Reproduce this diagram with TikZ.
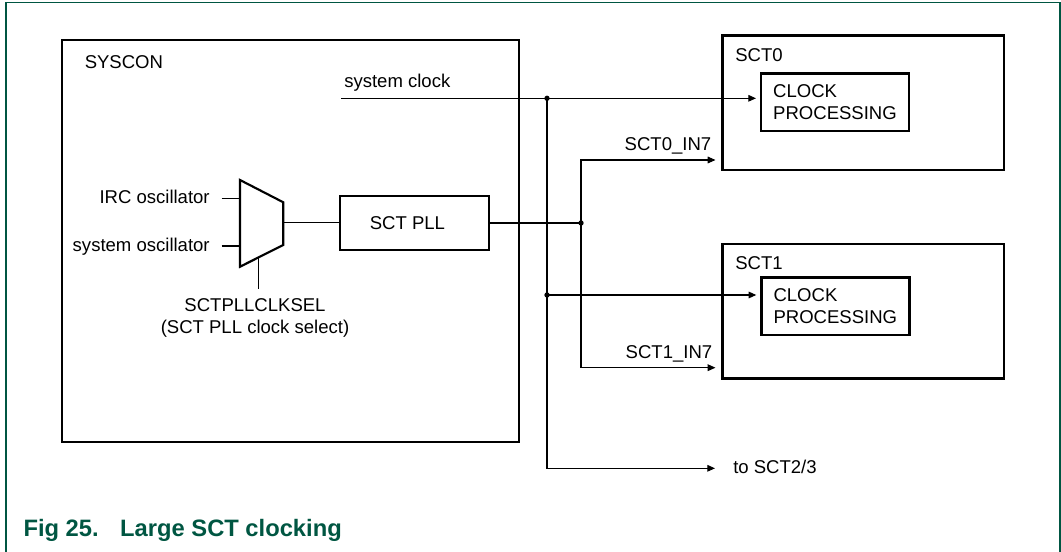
\documentclass[tikz,border=0pt]{standalone}
\usepackage{fontspec}
\setmainfont{Liberation Sans}
\usepackage{tikz}
\usetikzlibrary{arrows.meta}
\definecolor{nxpgreen}{RGB}{0,86,66}

\begin{document}
\begin{tikzpicture}[x=0.75pt, y=-0.75pt,
	every node/.style={font=\fontsize{13.9}{16.5}\selectfont, inner sep=0pt},
	blk/.style={draw, line width=1.9pt, rectangle},
	wire/.style={line width=0.8pt},
	arr/.style={wire, -{Triangle[length=5.8pt, width=5pt]}, shorten >=#1},
	arr/.default=0pt,
	txt/.style={anchor=base west}]
	\useasboundingbox (0,0) rectangle (1061,552);
	\draw[nxpgreen, line width=0.8pt] (6,552) -- (6,2.5) -- (1060,2.5) -- (1060,552);
	%%
	\node[blk, minimum width=342.75pt, minimum height=301.3pt] (syscon) at (290.5,240.9) {};
	\node[txt] (sysconlbl) at (84.5,69) {SYSCON};
	\node[txt] (sysclklbl) at (344,88) {system clock};
	\coordinate (sysclk) at (341,98.3);
	%%
	\coordinate (muxa) at (240,198.3);
	\coordinate (muxb) at (240,246);
	\coordinate (muxout) at (283.3,222.7);
	\coordinate (muxsel) at (258.3,257.5);
	\draw[line width=1.6pt] (240,180) -- (283.3,202.3) -- (283.3,245) -- (240,266.7) -- cycle;
	\node[anchor=base east, inner xsep=8.8pt] (irc) at (221.7,204) {IRC oscillator};
	\node[anchor=base east, inner xsep=8.8pt] (sysosc) at (221.7,252) {system oscillator};
	\draw[wire] (irc.east |- muxa) -- (muxa);
	\draw[wire] (sysosc.east |- muxb) -- (muxb);
	\node[anchor=north, inner ysep=7pt, align=center] (sellbl) at (255,289) {SCTPLLCLKSEL\\(SCT PLL clock select)};
	\draw[wire] (muxsel) -- (muxsel |- sellbl.north);
	%%
	\node[blk, minimum width=111.75pt, minimum height=40.5pt] (pll) at (414.5,223) {};
	\node[anchor=base] (plllbl) at (407.4,229.6) {SCT PLL};
	\draw[wire] (muxout) -- (pll.west |- muxout);
	%%
	\node[blk, minimum width=211.1pt, minimum height=100.7pt] (sct0) at (863.2,102.9) {};
	\node[txt] (sct0lbl) at (735,61.6) {SCT0};
	\node[blk, minimum width=111pt, minimum height=43.3pt, align=left] (clk0) at (835,102.2) {CLOCK\\PROCESSING};
	\node[blk, minimum width=211.1pt, minimum height=100.7pt] (sct1) at (863.2,311.2) {};
	\node[txt] (sct1lbl) at (735,269.6) {SCT1};
	\node[blk, minimum width=111pt, minimum height=43.3pt, align=left] (clk1) at (835.3,306.2) {CLOCK\\PROCESSING};
	%%
	\coordinate (j0) at (547,98.3);
	\coordinate (j1) at (547,295);
	\coordinate (j2) at (547,468.3);
	\coordinate (jpll) at (581,223);
	\coordinate (in0) at (581,160);
	\coordinate (in1) at (581,367.7);
	\node[txt, inner xsep=13.5pt] (tosct) at (715,474) {to SCT2/3};
	\node[anchor=base east] (in0lbl) at (711.5,150.7) {SCT0\_IN7};
	\node[anchor=base east] (in1lbl) at (712.5,359) {SCT1\_IN7};
	%%
	\draw[arr=2.8pt] (sysclk) -- (clk0.west |- sysclk);
	\draw[arr] (j0) |- (tosct.west |- j2);
	\draw[arr=2.8pt] (j1) -- (clk1.west |- j1);
	\draw[wire] (pll.east) -- (jpll);
	\draw[arr=4.3pt] (jpll) -- (in0) -- (sct0.west |- in0);
	\draw[arr=4.3pt] (jpll) -- (in1) -- (sct1.west |- in1);
	\fill (j0) circle (2pt);
	\fill (j1) circle (2pt);
	\fill (jpll) circle (2pt);
	%%
	\node[anchor=base west, text=nxpgreen, font=\fontsize{17.8}{20}\selectfont\bfseries] (caption) at (23.3,536.7) {Fig 25.\hspace{16.1pt}Large SCT clocking};
\end{tikzpicture}
\end{document}
